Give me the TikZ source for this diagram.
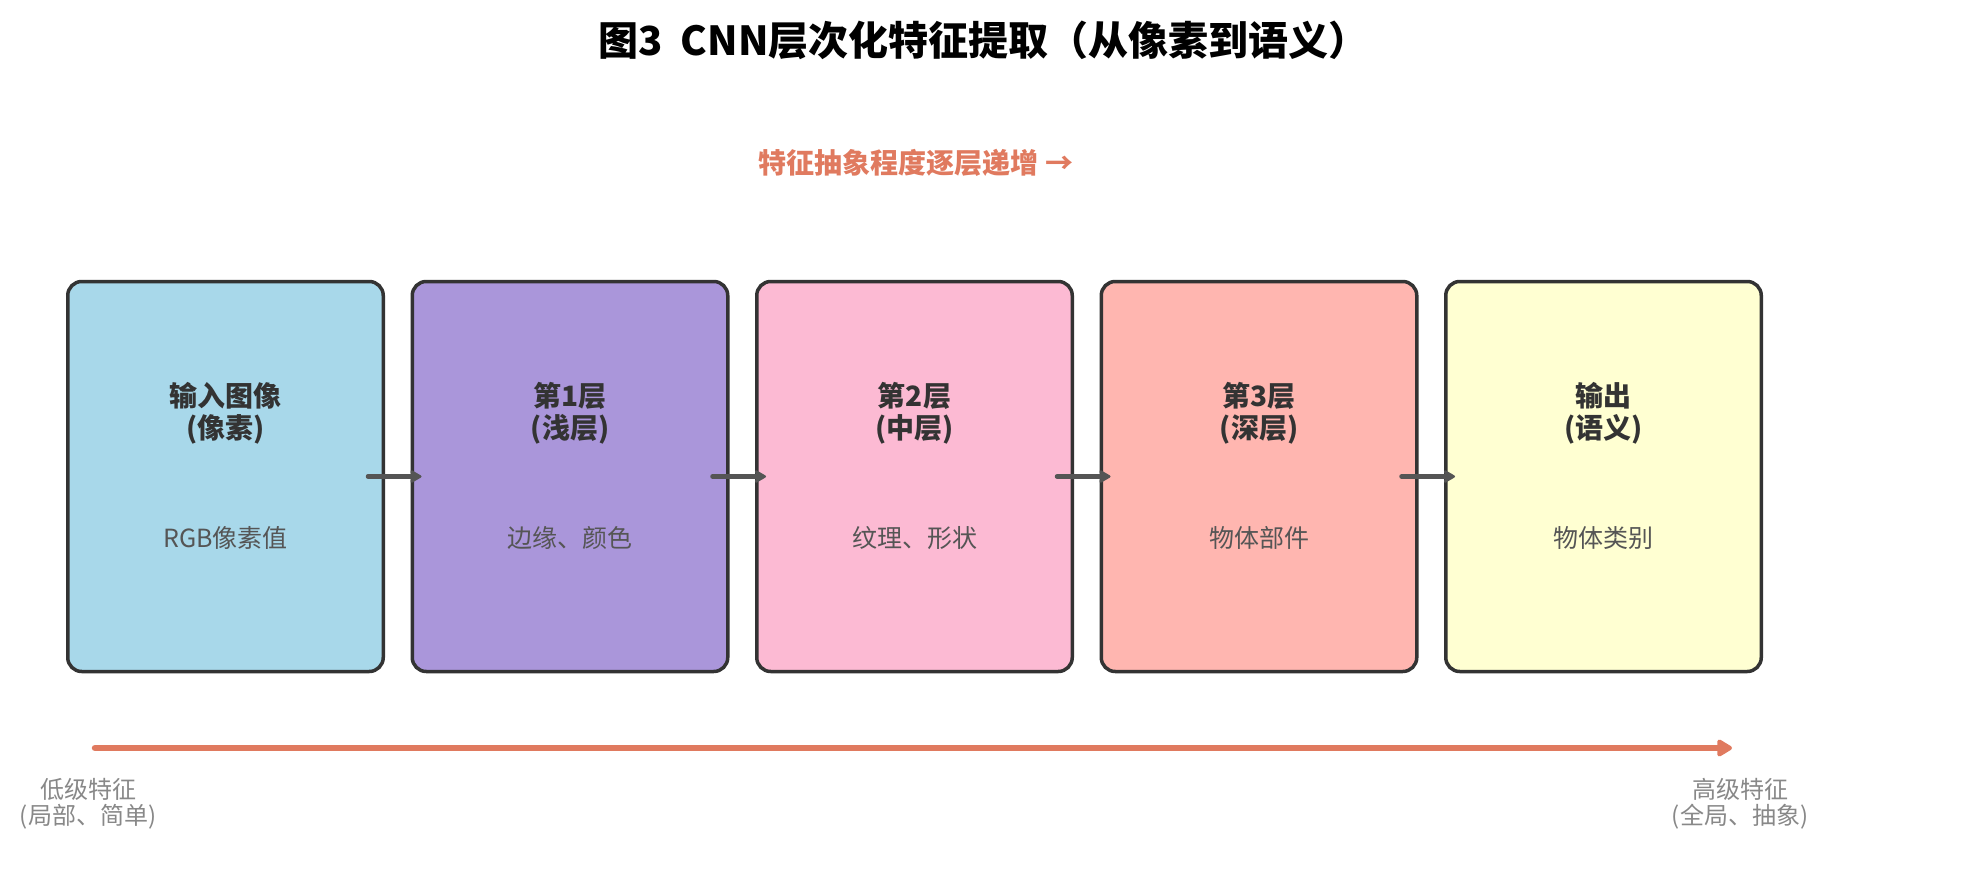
\documentclass[tikz,border=0pt]{standalone}
\usepackage{fontspec}
\setmainfont{Noto Sans CJK SC}
\usetikzlibrary{arrows.meta}
\definecolor{c1}{HTML}{A8D8EA}
\definecolor{c2}{HTML}{AA96DA}
\definecolor{c3}{HTML}{FCBAD3}
\definecolor{c4}{HTML}{FFB6B0}
\definecolor{c5}{HTML}{FFFFD2}
\definecolor{bordc}{HTML}{333333}
\definecolor{arrc}{HTML}{555555}
\definecolor{subc}{HTML}{555555}
\definecolor{orng}{HTML}{E07A5F}
\definecolor{lowc}{HTML}{888888}
\tikzset{
  x=1pt,y=-1pt,
  box/.style={draw=bordc,line width=3.5pt,rounded corners=14pt,minimum width=315.5pt,minimum height=390pt,inner sep=0pt},
  boxtitle/.style={font=\fontsize{28}{32}\selectfont\bfseries,text=bordc,align=center,inner sep=0pt},
  boxsub/.style={font=\fontsize{25}{28}\selectfont,text=subc,inner sep=0pt},
  conn/.style={draw=arrc,line width=4.5pt,line cap=round,-{Stealth[length=14pt,width=16pt,inset=4pt,round]}},
  endlabel/.style={font=\fontsize{24}{26}\selectfont,text=lowc,align=center,inner sep=0pt},
}
\begin{document}
\begin{tikzpicture}
\useasboundingbox (0,0) rectangle (1967,880);
\node[font=\fontsize{40}{44}\selectfont\bfseries,inner sep=0pt] (title) at (983.5,40) {图3\ \ CNN层次化特征提取（从像素到语义）};
\node[font=\fontsize{28}{32}\selectfont\bfseries,text=orng,inner sep=0pt] (sub) at (916,163) {特征抽象程度逐层递增 →};

\node[box,fill=c1] (b1) at (225.5,476.5) {};
\node[box,fill=c2] (b2) at (570,476.5) {};
\node[box,fill=c3] (b3) at (914.5,476.5) {};
\node[box,fill=c4] (b4) at (1259,476.5) {};
\node[box,fill=c5] (b5) at (1603.5,476.5) {};

\node[boxtitle] (t1) at (225.5,413) {输入图像\\(像素)};
\node[boxtitle] (t2) at (570,413) {第1层\\(浅层)};
\node[boxtitle] (t3) at (914.5,413) {第2层\\(中层)};
\node[boxtitle] (t4) at (1259,413) {第3层\\(深层)};
\node[boxtitle] (t5) at (1603.5,413) {输出\\(语义)};

\node[boxsub] (s1) at (225.5,538) {RGB像素值};
\node[boxsub] (s2) at (570,538) {边缘、颜色};
\node[boxsub] (s3) at (914.5,538) {纹理、形状};
\node[boxsub] (s4) at (1259,538) {物体部件};
\node[boxsub] (s5) at (1603.5,538) {物体类别};

\draw[conn] ([xshift=-17pt]b1.east) -- ([xshift=11pt]b2.west);
\draw[conn] ([xshift=-17pt]b2.east) -- ([xshift=11pt]b3.west);
\draw[conn] ([xshift=-17pt]b3.east) -- ([xshift=11pt]b4.west);
\draw[conn] ([xshift=-17pt]b4.east) -- ([xshift=11pt]b5.west);

\coordinate (lowend) at (95,748);
\coordinate (highend) at (1732,748);
\draw[draw=orng,line width=6.5pt,line cap=round,-{Triangle[length=17pt,width=19pt,round]}] (lowend) -- (highend);

\node[endlabel] (low) at (88,804) {低级特征\\(局部、简单)};
\node[endlabel] (high) at (1740,804) {高级特征\\(全局、抽象)};
\end{tikzpicture}
\end{document}
